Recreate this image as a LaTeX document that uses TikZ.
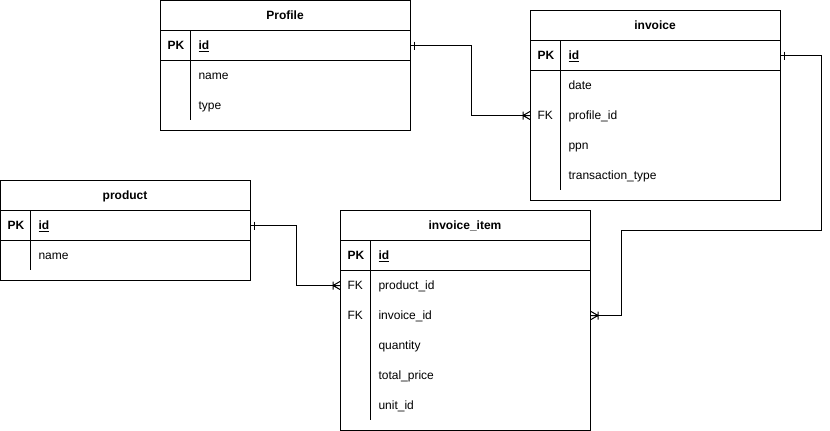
\documentclass[tikz,border=0pt]{standalone}
\usepackage{fontspec}
\setmainfont{Liberation Sans}
\begin{document}
\begin{tikzpicture}[x=1pt,y=-1pt,line width=1pt,
  tbl/.style={draw,anchor=north west,minimum width=250pt,inner sep=0pt},
  rowbox/.style={anchor=north west,minimum width=250pt,minimum height=30pt,inner sep=0pt},
  txt/.style={font=\fontsize{12}{14}\selectfont,inner sep=0pt,text height=8.6pt,text depth=0pt},
  ttl/.style={txt,font=\fontsize{12}{14}\selectfont\bfseries},
  key/.style={txt,font=\fontsize{12}{14}\selectfont\bfseries,anchor=west},
  fkey/.style={txt,anchor=west},
  fld/.style={txt,anchor=west},
  onebar/.pic={\draw (3,-4) -- (3,4);},
  crowfoot/.pic={\draw (-7,0) -- (0,-4) (-7,0) -- (0,4) (-7,0) -- (0,0) (-7,-4) -- (-7,4);}
]
\useasboundingbox (0,0) rectangle (830,431);

% ---- Profile ----
\node[tbl,minimum height=130pt] (profile) at (160,0) {};
\draw (160,30) -- (410,30) (160,60) -- (410,60) (190,30) -- (190,120);
\node[ttl] (profilettl) at (285,15) {Profile};
\node[rowbox] (profilepk) at (160,30) {};
\node[key] (profilepkl) at (167,45) {PK};
\node[key] (profileid) at (198,45) {\underline{id}};
\node[fld] (profilename) at (198,75) {name};
\node[fld] (profiletype) at (198,105) {type};

% ---- invoice ----
\node[tbl,minimum height=190pt] (invoice) at (530,10) {};
\draw (530,40) -- (780,40) (530,70) -- (780,70) (560,40) -- (560,190);
\node[ttl] (invoicettl) at (655,25) {invoice};
\node[rowbox] (invoicepk) at (530,40) {};
\node[key] (invoicepkl) at (537,55) {PK};
\node[key] (invoiceid) at (568,55) {\underline{id}};
\node[fld] (invoicedate) at (568,85) {date};
\node[rowbox] (invprof) at (530,100) {};
\node[fkey] (invproffk) at (537,115) {FK};
\node[fld] (invprofl) at (568,115) {profile\_id};
\node[fld] (invoiceppn) at (568,145) {ppn};
\node[fld] (invoicett) at (568,175) {transaction\_type};

% ---- product ----
\node[tbl,minimum height=100pt] (product) at (0,180) {};
\draw (0,210) -- (250,210) (0,240) -- (250,240) (30,210) -- (30,270);
\node[ttl] (productttl) at (125,195) {product};
\node[rowbox] (productpk) at (0,210) {};
\node[key] (productpkl) at (7,225) {PK};
\node[key] (productid) at (38,225) {\underline{id}};
\node[fld] (productname) at (38,255) {name};

% ---- invoice_item ----
\node[tbl,minimum height=220pt] (item) at (340,210) {};
\draw (340,240) -- (590,240) (340,270) -- (590,270) (370,240) -- (370,420);
\node[ttl] (itemttl) at (465,225) {invoice\_item};
\node[rowbox] (itempk) at (340,240) {};
\node[key] (itempkl) at (347,255) {PK};
\node[key] (itemid) at (378,255) {\underline{id}};
\node[rowbox] (itemprod) at (340,270) {};
\node[fkey] (itemprodfk) at (347,285) {FK};
\node[fld] (itemprodl) at (378,285) {product\_id};
\node[rowbox] (iteminv) at (340,300) {};
\node[fkey] (iteminvfk) at (347,315) {FK};
\node[fld] (iteminvl) at (378,315) {invoice\_id};
\node[fld] (itemqty) at (378,345) {quantity};
\node[fld] (itemtp) at (378,375) {total\_price};
\node[fld] (itemunit) at (378,405) {unit\_id};

% ---- connectors ----
\draw (profilepk.east) -- ++(60,0) |- (invprof.west);
\pic at (profilepk.east) {onebar};
\pic at (invprof.west) {crowfoot};

\draw (productpk.east) -- ++(45,0) |- (itemprod.west);
\pic at (productpk.east) {onebar};
\pic at (itemprod.west) {crowfoot};

\draw (invoicepk.east) -- ++(40,0) -- ++(0,175) -- ++(-200,0) |- (iteminv.east);
\pic at (invoicepk.east) {onebar};
\pic[xscale=-1] at (iteminv.east) {crowfoot};
\end{tikzpicture}
\end{document}
